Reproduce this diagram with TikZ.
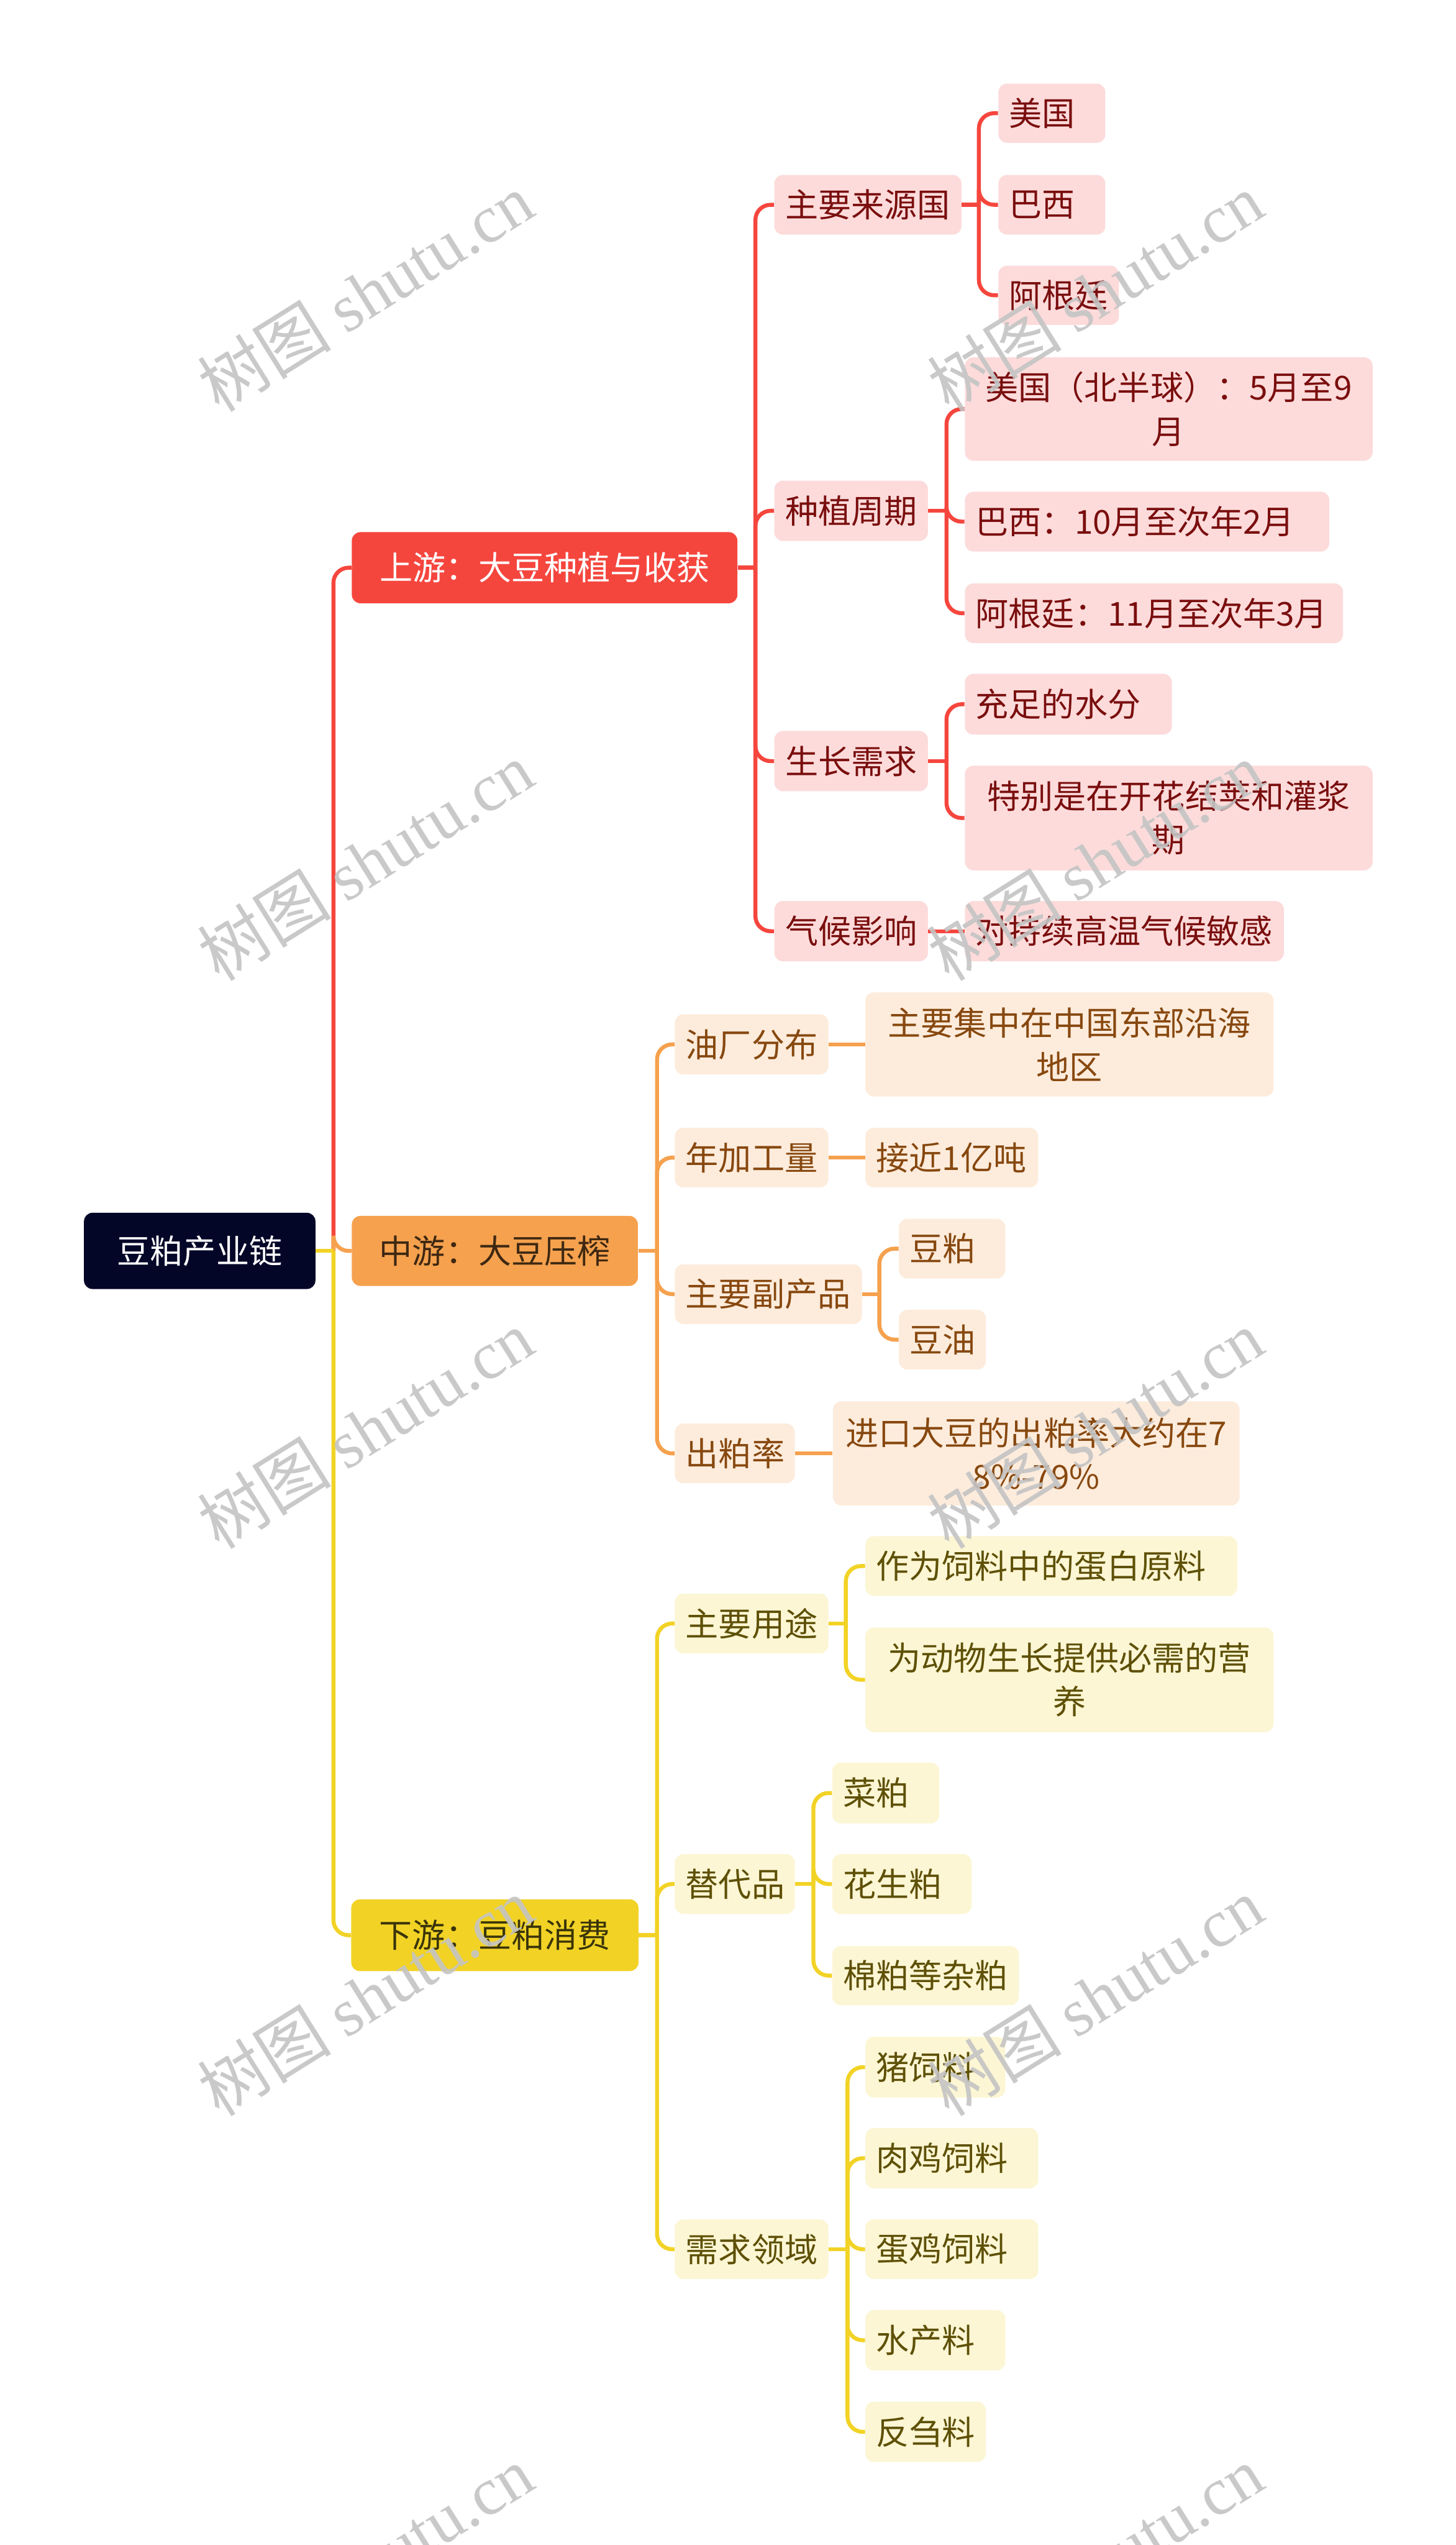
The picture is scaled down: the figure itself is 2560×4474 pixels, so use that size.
\documentclass[tikz,border=0pt]{standalone}
\usepackage{fontspec}
\setmainfont{Noto Sans CJK SC}
\newfontfamily\wmlatin{Liberation Serif}
\newfontfamily\wmhan{Noto Sans CJK SC}
\usetikzlibrary{calc}
\definecolor{rootfill}{RGB}{4,6,40}
\definecolor{redmain}{RGB}{245,70,62}
\definecolor{orgmain}{RGB}{245,161,78}
\definecolor{ylwmain}{RGB}{242,211,37}
\definecolor{redlight}{RGB}{253,219,219}
\definecolor{orglight}{RGB}{253,236,220}
\definecolor{ylwlight}{RGB}{252,246,212}
\definecolor{redtext}{RGB}{122,14,14}
\definecolor{orgtext}{RGB}{135,72,15}
\definecolor{ylwtext}{RGB}{94,80,6}
\definecolor{orgdark}{RGB}{62,40,18}
\definecolor{ylwdark}{RGB}{58,52,10}
\definecolor{wmgray}{RGB}{196,196,196}
\tikzset{
  box/.style={rounded corners=4.5pt, inner xsep=5.7pt, inner ysep=0pt, anchor=west,
     font=\fontsize{17.4pt}{23.1pt}\selectfont},
  sz/.style 2 args={minimum width=#1*0.3pt, minimum height=#2*0.3pt, text width=(#1-38)*0.3pt},
  lft/.style={align=left},
  ctr/.style={align=center},
  rootbox/.style={box, fill=rootfill, text=white, align=center},
  redone/.style={box, fill=redmain, text=white, align=center},
  orgone/.style={box, fill=orgmain, text=orgdark, align=center},
  ylwone/.style={box, fill=ylwmain, text=ylwdark, align=center},
  redtwo/.style={box, fill=redlight, text=redtext},
  orgtwo/.style={box, fill=orglight, text=orgtext},
  ylwtwo/.style={box, fill=ylwlight, text=ylwtext},
  redline/.style={draw=redmain, line width=2.1pt},
  orgline/.style={draw=orgmain, line width=2.1pt},
  ylwline/.style={draw=ylwmain, line width=2.1pt},
  wm/.style={text=wmgray, rotate=32, font=\fontsize{35.5pt}{40pt}\selectfont, opacity=0.9}
}
\newcommand\conn[4]{%
  \draw[#4] (#1.east) -- ++(#3,0);
  \draw[#4, rounded corners=8pt] ($(#1.east)+(#3,0)$) |- (#2.west);
}
\begin{document}
\begin{tikzpicture}[x=0.3pt,y=-0.3pt]
\useasboundingbox (0,0) rectangle (2560,4474);
\clip (0,0) rectangle (2560,4474);
\fill[white] (0,0) rectangle (2560,4474);

% root and level 1
\node[rootbox, sz={407}{134}] (root) at (147,2199) {豆粕产业链};
\node[redone, sz={678}{125}] (up) at (618,998) {上游：大豆种植与收获};
\node[orgone, sz={503}{123}] (mid) at (618,2199) {中游：大豆压榨};
\node[ylwone, sz={505}{126}] (down) at (617,3402) {下游：豆粕消费};

% upstream
\node[redtwo, lft, sz={329}{105}] (a1) at (1361,360) {主要来源国};
\node[redtwo, lft, sz={188}{104}] (a11) at (1755,199) {美国};
\node[redtwo, lft, sz={188}{105}] (a12) at (1755,360) {巴西};
\node[redtwo, lft, sz={212}{104}] (a13) at (1755,519) {阿根廷};
\node[redtwo, lft, sz={270}{106}] (a2) at (1361,898) {种植周期};
\node[redtwo, ctr, sz={717}{182}] (a21) at (1696,719) {美国（北半球）：5月至9\\月};
\node[redtwo, lft, sz={641}{105}] (a22) at (1696,917) {巴西：10月至次年2月};
\node[redtwo, lft, sz={665}{105}] (a23) at (1696,1078) {阿根廷：11月至次年3月};
\node[redtwo, lft, sz={270}{106}] (a3) at (1361,1338) {生长需求};
\node[redtwo, lft, sz={364}{107}] (a31) at (1696,1238) {充足的水分};
\node[redtwo, ctr, sz={717}{184}] (a32) at (1696,1438) {特别是在开花结荚和灌浆\\期};
\node[redtwo, lft, sz={270}{106}] (a4) at (1361,1637) {气候影响};
\node[redtwo, lft, sz={561}{106}] (a41) at (1696,1637) {对持续高温气候敏感};

% midstream
\node[orgtwo, lft, sz={270}{106}] (b1) at (1186,1836) {油厂分布};
\node[orgtwo, ctr, sz={718}{183}] (b11) at (1521,1836) {主要集中在中国东部沿海\\地区};
\node[orgtwo, lft, sz={270}{105}] (b2) at (1186,2035) {年加工量};
\node[orgtwo, lft, sz={304}{105}] (b21) at (1521,2035) {接近1亿吨};
\node[orgtwo, lft, sz={329}{105}] (b3) at (1186,2275) {主要副产品};
\node[orgtwo, lft, sz={187}{105}] (b31) at (1580,2195) {豆粕};
\node[orgtwo, lft, sz={153}{105}] (b32) at (1580,2355) {豆油};
\node[orgtwo, lft, sz={211}{105}] (b4) at (1186,2555) {出粕率};
\node[orgtwo, ctr, sz={715}{183}] (b41) at (1464,2555) {进口大豆的出粕率大约在7\\8\%-79\%};

% downstream
\node[ylwtwo, lft, sz={270}{105}] (c1) at (1186,2854) {主要用途};
\node[ylwtwo, lft, sz={654}{105}] (c11) at (1521,2753) {作为饲料中的蛋白原料};
\node[ylwtwo, ctr, sz={718}{184}] (c12) at (1521,2953) {为动物生长提供必需的营\\养};
\node[ylwtwo, lft, sz={211}{105}] (c2) at (1186,3312) {替代品};
\node[ylwtwo, lft, sz={188}{107}] (c21) at (1463,3152) {菜粕};
\node[ylwtwo, lft, sz={245}{105}] (c22) at (1463,3312) {花生粕};
\node[ylwtwo, lft, sz={328}{104}] (c23) at (1463,3473) {棉粕等杂粕};
\node[ylwtwo, lft, sz={270}{105}] (c3) at (1186,3954) {需求领域};
\node[ylwtwo, lft, sz={246}{107}] (c31) at (1521,3634) {猪饲料};
\node[ylwtwo, lft, sz={304}{106}] (c32) at (1521,3794) {肉鸡饲料};
\node[ylwtwo, lft, sz={304}{105}] (c33) at (1521,3954) {蛋鸡饲料};
\node[ylwtwo, lft, sz={246}{106}] (c34) at (1521,4114) {水产料};
\node[ylwtwo, lft, sz={212}{106}] (c35) at (1521,4275) {反刍料};

% connectors
\conn{root}{up}{31}{redline}
\conn{root}{mid}{31}{orgline}
\conn{root}{down}{31}{ylwline}

\conn{up}{a1}{31}{redline}
\conn{up}{a2}{31}{redline}
\conn{up}{a3}{31}{redline}
\conn{up}{a4}{31}{redline}
\conn{a1}{a11}{30}{redline}
\conn{a1}{a12}{30}{redline}
\conn{a1}{a13}{30}{redline}
\conn{a2}{a21}{32}{redline}
\conn{a2}{a22}{32}{redline}
\conn{a2}{a23}{32}{redline}
\conn{a3}{a31}{32}{redline}
\conn{a3}{a32}{32}{redline}
\draw[redline] (a4.east) -- (a41.west);

\conn{mid}{b1}{33}{orgline}
\conn{mid}{b2}{33}{orgline}
\conn{mid}{b3}{33}{orgline}
\conn{mid}{b4}{33}{orgline}
\draw[orgline] (b1.east) -- (b11.west);
\draw[orgline] (b2.east) -- (b21.west);
\conn{b3}{b31}{30}{orgline}
\conn{b3}{b32}{30}{orgline}
\draw[orgline] (b4.east) -- (b41.west);

\conn{down}{c1}{32}{ylwline}
\conn{down}{c2}{32}{ylwline}
\conn{down}{c3}{32}{ylwline}
\conn{c1}{c11}{30}{ylwline}
\conn{c1}{c12}{30}{ylwline}
\conn{c2}{c21}{32}{ylwline}
\conn{c2}{c22}{32}{ylwline}
\conn{c2}{c23}{32}{ylwline}
\conn{c3}{c31}{33}{ylwline}
\conn{c3}{c32}{33}{ylwline}
\conn{c3}{c33}{33}{ylwline}
\conn{c3}{c34}{33}{ylwline}
\conn{c3}{c35}{33}{ylwline}

% watermarks
\node[wm] (w1) at (642,514) {{\wmhan 树图} {\wmlatin shutu.cn}};
\node[wm] (w2) at (1926,514) {{\wmhan 树图} {\wmlatin shutu.cn}};
\node[wm] (w3) at (642,1514) {{\wmhan 树图} {\wmlatin shutu.cn}};
\node[wm] (w4) at (1926,1514) {{\wmhan 树图} {\wmlatin shutu.cn}};
\node[wm] (w5) at (642,2512) {{\wmhan 树图} {\wmlatin shutu.cn}};
\node[wm] (w6) at (1926,2512) {{\wmhan 树图} {\wmlatin shutu.cn}};
\node[wm] (w7) at (642,3510) {{\wmhan 树图} {\wmlatin shutu.cn}};
\node[wm] (w8) at (1926,3510) {{\wmhan 树图} {\wmlatin shutu.cn}};
\node[wm] (w9) at (642,4509) {{\wmhan 树图} {\wmlatin shutu.cn}};
\node[wm] (w10) at (1926,4509) {{\wmhan 树图} {\wmlatin shutu.cn}};
\end{tikzpicture}
\end{document}
